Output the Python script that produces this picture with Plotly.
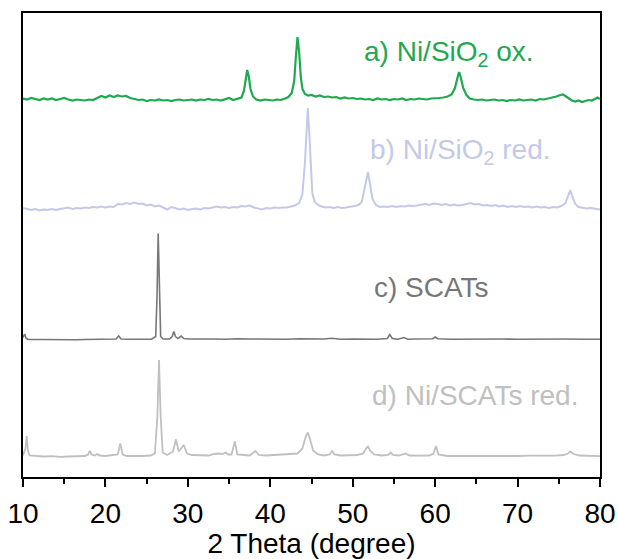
import plotly.graph_objects as go

# 2-theta (degree) and intensity (a.u., relative to each pattern's own baseline)
a_x = [10.0,10.5,11.0,11.5,12.0,12.5,13.0,13.5,14.0,14.5,15.0,15.5,16.0,16.5,17.0,17.5,18.0,18.5,19.0,19.5,
       20.0,20.5,21.0,21.5,22.0,22.5,23.0,23.5,24.0,24.5,25.0,25.5,26.0,26.5,27.0,27.5,28.0,28.5,29.0,29.5,
       30.0,30.5,31.0,31.5,32.0,32.5,33.0,33.5,34.0,34.5,35.0,35.5,36.0,36.5,36.8,37.0,37.2,37.4,37.6,37.9,
       38.3,38.8,39.3,39.8,40.3,40.8,41.3,41.8,42.2,42.6,42.9,43.1,43.3,43.5,43.7,43.9,44.2,44.6,45.0,45.5,
       46.0,46.5,47.0,47.5,48.0,48.5,49.0,49.5,50.0,50.5,51.0,51.5,52.0,52.5,53.0,53.5,54.0,54.5,55.0,55.5,
       56.0,56.5,57.0,57.5,58.0,58.5,59.0,59.5,60.0,60.5,61.0,61.5,62.0,62.4,62.7,62.9,63.1,63.4,63.8,64.2,
       64.7,65.2,65.7,66.2,66.7,67.2,67.7,68.2,68.7,69.2,69.7,70.2,70.7,71.2,71.7,72.2,72.7,73.2,73.7,74.2,
       74.7,75.2,75.5,75.8,76.2,76.6,77.0,77.4,77.8,78.2,78.6,79.0,79.4,79.7,80.0]
a_y = [0.5,-0.5,1.0,0,-1.0,0.5,-0.5,0.5,-1.0,0,1.0,-0.5,-1.5,-0.5,-1.0,-1.5,-0.5,-1.0,1.0,3.0,
       1.5,3.5,2.0,3.5,2.5,3.0,1.0,0,-1.0,-0.5,-2.0,-1.0,-1.5,-0.5,-1.5,-1.0,-2.0,-1.0,-0.5,-1.5,
       -1.0,-0.5,-1.5,-0.5,-1.0,0,-1.0,-0.5,-1.5,0,1.0,-1.0,0,1.5,8,20,29,22,10,2.5,
       -0.5,-1.5,-0.5,-1.0,-1.5,-0.5,-1.0,0.5,2.0,6,18,42,62,47,22,10,5,3.5,4.0,2.5,
       3.5,2.0,2.5,1.5,2.0,0.5,1.5,0.5,1.0,0,0.5,-0.5,0,-1.0,0.5,-0.5,0,-1.0,0,-0.5,
       0.5,-1.0,0,-0.5,0.5,0,-0.5,0.5,0.5,1.0,1.5,2.5,4.5,11,21,27,22,11,4,0.5,
       -0.5,-1.0,-0.5,-1.5,-1.0,-0.5,-1.5,-1.0,-2.0,-1.0,-1.5,-0.5,-1.5,-1.0,-0.5,-1.5,0,-0.5,0.5,1.0,
       2.5,4.0,4.5,3.0,0.5,-1.5,-2.5,-1.5,-3.0,-2.0,-1.0,-1.5,0.5,1.5,0]

b_x = [10.0,10.5,11.0,11.5,12.0,12.5,13.0,13.5,14.0,14.5,15.0,15.5,16.0,16.5,17.0,17.5,18.0,18.5,19.0,19.5,
       20.0,20.5,21.0,21.5,22.0,22.5,23.0,23.5,24.0,24.5,25.0,25.5,26.0,26.5,27.0,27.5,28.0,28.5,29.0,29.5,
       30.0,30.5,31.0,31.5,32.0,32.5,33.0,33.5,34.0,34.5,35.0,35.5,36.0,36.5,37.0,37.5,38.0,38.5,39.0,39.5,
       40.0,40.5,41.0,41.5,42.0,42.5,43.0,43.5,43.9,44.2,44.4,44.55,44.7,44.9,45.1,45.4,45.8,46.2,46.7,47.2,
       47.7,48.2,48.7,49.2,49.7,50.2,50.7,51.1,51.5,51.85,52.1,52.4,52.8,53.3,53.8,54.3,54.8,55.3,55.8,56.3,
       56.8,57.3,57.8,58.3,58.8,59.3,59.8,60.3,60.8,61.3,61.8,62.3,62.8,63.3,63.8,64.3,64.8,65.3,65.8,66.3,
       66.8,67.3,67.8,68.3,68.8,69.3,69.8,70.3,70.8,71.3,71.8,72.3,72.8,73.3,73.8,74.3,74.8,75.3,75.8,76.1,
       76.4,76.7,77.0,77.4,77.9,78.4,78.9,79.4,80.0]
b_y = [0,-1.0,-2.0,-1.0,-2.5,-1.5,-2.0,-1.0,-2.0,-1.0,-0.5,0.5,-1.0,0,-0.5,0.5,0,1.0,0.5,1.5,
       0.5,1.5,1.0,4.0,3.5,5.0,4.0,5.5,4.0,4.5,2.5,3.5,1.5,2.5,0.5,-1.5,1.0,-0.5,-1.5,-0.5,
       -2.0,-1.0,-0.5,-1.5,0,-0.5,0.5,1.5,0.5,1.0,0,1.0,0.5,2.0,1.5,2.5,0.5,-0.5,-1.5,0,
       -0.5,0.5,0,0.5,0.5,1.5,2.5,5.0,14,45,85,100,80,40,15,6,3,1.5,0.5,1.0,
       0,1.0,0,0.5,1.0,2.0,3.0,6,22,36,24,9,3,1.0,1.5,1.0,2.0,1.0,2.0,1.5,
       2.5,2.0,2.5,3.0,4.0,3.0,4.5,4.0,3.0,4.0,2.5,3.5,2.5,3.0,4.0,5.0,3.5,4.0,2.5,3.0,
       2.0,3.0,1.5,2.5,1.0,2.0,1.0,2.0,1.0,1.5,0.5,1.5,0.5,1.0,0,1.0,0.5,2.0,5.0,11,
       18,10,4,1.0,0.5,-0.5,0,-1.0,-1.5]

c_x = [10.0,10.1,10.2,10.35,10.6,12.0,13.5,15.0,16.5,17.5,18.5,19.5,20.5,21.3,21.6,21.9,23.0,24.5,25.6,26.1,
       26.25,26.4,26.55,26.7,27.0,27.8,28.1,28.3,28.5,28.8,29.2,29.5,30.2,31.5,33.0,34.5,36.0,37.5,39.0,40.5,
       42.0,43.5,45.0,46.5,47.5,48.5,50.0,51.5,53.0,54.2,54.5,54.8,55.5,56.2,56.7,57.5,59.0,59.7,60.0,60.3,
       62.0,64.0,66.0,68.0,70.0,72.0,74.0,76.0,78.0,80.0]
c_y = [2,4,5.5,1.5,0,0,-0.3,0,-0.3,0,0.3,0,0.3,0.5,3.5,0.5,0.2,0,0.3,3,
       40,106,40,3,0.5,0.5,3,8,3,1,3.5,1,0.5,0.2,0.5,0.3,0.8,0.5,0.3,0.5,
       0.3,0.7,0.3,0.5,1.2,0.3,0.5,0.2,0.3,1,5,1,0.3,2,0.3,0.5,0.5,0.8,2.5,0.8,
       0.3,0.5,0.3,0.5,0.3,0.5,0.3,0.5,0.3,0.3]

d_x = [10.0,10.3,10.45,10.6,10.8,11.5,12.5,13.5,14.5,15.5,16.5,17.5,17.9,18.1,18.3,18.7,19.0,19.3,20.0,21.0,
       21.5,21.8,22.1,22.6,23.5,24.5,25.5,26.0,26.3,26.5,26.7,26.95,27.5,28.2,28.55,28.9,29.5,29.9,30.5,31.5,
       32.5,33.2,33.7,34.2,34.6,34.9,35.3,35.7,36.0,36.8,37.5,38.2,38.6,39.5,40.5,41.5,42.5,43.3,43.9,44.3,
       44.55,44.8,45.2,45.8,46.5,47.2,47.5,47.8,48.5,49.5,50.5,51.3,51.6,51.85,52.1,52.6,53.5,54.3,54.6,54.9,
       55.6,56.4,56.9,58.0,59.3,59.8,60.1,60.4,61.5,63.0,65.0,67.0,68.5,70.0,71.5,73.0,74.5,75.6,76.1,76.4,
       76.8,77.5,79.0,80.0]
d_y = [1,8,20.5,6,1,0.3,0,0.3,-0.3,0,0.3,0.5,2,5.5,2,1,2.5,1,0.5,1,
       2,13,2,0.5,0.3,0.5,1,3,40,96.5,40,4,1.5,5,17,5,11.5,3,1.5,1,
       1,2.5,3,2.5,4,2,2,15,2,1.5,1,5.5,1.5,1,1.5,1.5,2,3,8,20,
       24,18,6,2,1,2,5.5,2,1,1,1.5,3,8,10,6,2,1,1.5,4,1.5,
       1,3,1,0.8,1,3,10.5,2,0.5,0.5,0.3,0.5,0.3,0.5,0.8,0.5,0.8,1.5,3,5,
       2.5,1,0.5,0.3]

names = ["a) Ni/SiO<sub>2</sub> ox.", "b) Ni/SiO<sub>2</sub> red.", "c) SCATs", "d) Ni/SCATs red."]
offsets = [378, 269, 137.5, 20.5]
colors = ["#1ea94f", "#c4c9e8", "#777777", "#c0c0c0"]
widths = [2.2, 2, 1.6, 1.8]
label_x = [51.1, 51.8, 52.3, 52.1]
label_y = [424, 326, 190, 82]

series = [(a_x, a_y), (b_x, b_y), (c_x, c_y), (d_x, d_y)]

fig = go.Figure()
for (xs, ys), off, col, w in zip(series, offsets, colors, widths):
    fig.add_trace(go.Scatter(x=xs, y=[v + off for v in ys], mode="lines",
                             line=dict(color=col, width=w), showlegend=False))

for name, lx, ly, col in zip(names, label_x, label_y, colors):
    fig.add_annotation(x=lx, y=ly, text=name, showarrow=False, xanchor="left", yanchor="middle",
                       font=dict(size=28, color=col, family="Liberation Sans, Arial"))

fig.update_layout(
    width=618, height=559,
    margin=dict(l=23, r=18, t=13, b=82, autoexpand=False),
    paper_bgcolor="white", plot_bgcolor="white",
    font=dict(family="Liberation Sans, Arial", color="black"),
    xaxis=dict(range=[10, 80], dtick=10, tick0=10, ticks="outside", ticklen=8, tickwidth=2,
               tickcolor="black", showline=True, linewidth=2, linecolor="black", mirror=True,
               showgrid=False, zeroline=False, tickfont=dict(size=28), automargin=False,
               ticklabelstandoff=2,
               minor=dict(dtick=5, ticks="outside", ticklen=5, tickwidth=2, tickcolor="black"),
               title=dict(text="2 Theta (degree)", font=dict(size=28), standoff=5)),
    yaxis=dict(range=[0, 464], showline=True, linewidth=2, linecolor="black", mirror=True,
               showticklabels=False, ticks="", showgrid=False, zeroline=False, automargin=False),
)

fig.write_html("out.html")
